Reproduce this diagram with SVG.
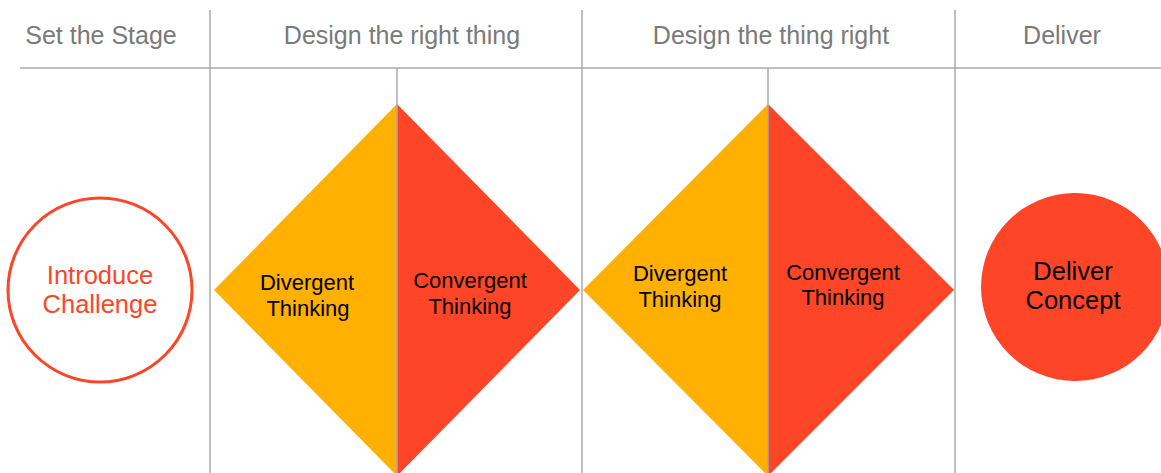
<svg xmlns="http://www.w3.org/2000/svg" width="1161" height="473" viewBox="0 0 1161 473">
<style>
.hdr{font-family:"Liberation Sans",Arial,sans-serif;font-size:25px;fill:#7a7a7a;text-anchor:middle}
.lbl{font-family:"Liberation Sans",Arial,sans-serif;font-size:22px;fill:#000;text-anchor:middle}
.big{font-family:"Liberation Sans",Arial,sans-serif;font-size:25.5px;text-anchor:middle}
.grid{stroke:#aaaaaa;stroke-width:1.5;fill:none}
</style>
<rect width="1161" height="473" fill="#fff"/>
<g id="grid">
<line class="grid" x1="20" y1="68" x2="1161" y2="68"/>
<line class="grid" x1="210" y1="10" x2="210" y2="473"/>
<line class="grid" x1="582" y1="10" x2="582" y2="473"/>
<line class="grid" x1="955" y1="10" x2="955" y2="473"/>
</g>
<g id="headers">
<text class="hdr" x="101" y="44">Set the Stage</text>
<text class="hdr" x="402" y="44">Design the right thing</text>
<text class="hdr" x="771" y="44">Design the thing right</text>
<text class="hdr" x="1062" y="44">Deliver</text>
</g>
<g id="introduce">
<circle cx="100" cy="290" r="92" fill="#fff" stroke="#ff4527" stroke-width="3"/>
<text class="big" x="100" y="284" fill="#ff4527">Introduce</text>
<text class="big" x="100" y="313" fill="#ff4527">Challenge</text>
</g>
<g id="diamond1">
<polygon points="397,104 214,290 397,476" fill="#ffb000"/>
<polygon points="397,104 580,290 397,476" fill="#ff4527"/>
<line class="grid" x1="397" y1="68" x2="397" y2="473"/>
<text class="lbl" x="307" y="290">Divergent</text>
<text class="lbl" x="308" y="316">Thinking</text>
<text class="lbl" x="470" y="288">Convergent</text>
<text class="lbl" x="470" y="314">Thinking</text>
</g>
<g id="diamond2">
<polygon points="768,104 583,290 768,476" fill="#ffb000"/>
<polygon points="768,104 954,290 768,476" fill="#ff4527"/>
<line class="grid" x1="768" y1="68" x2="768" y2="473"/>
<text class="lbl" x="680" y="281">Divergent</text>
<text class="lbl" x="680" y="307">Thinking</text>
<text class="lbl" x="843" y="280">Convergent</text>
<text class="lbl" x="843" y="305">Thinking</text>
</g>
<g id="deliver">
<circle cx="1075" cy="287" r="94" fill="#ff4527"/>
<text class="big" x="1073" y="280" fill="#000">Deliver</text>
<text class="big" x="1073" y="309" fill="#000">Concept</text>
</g>
</svg>
